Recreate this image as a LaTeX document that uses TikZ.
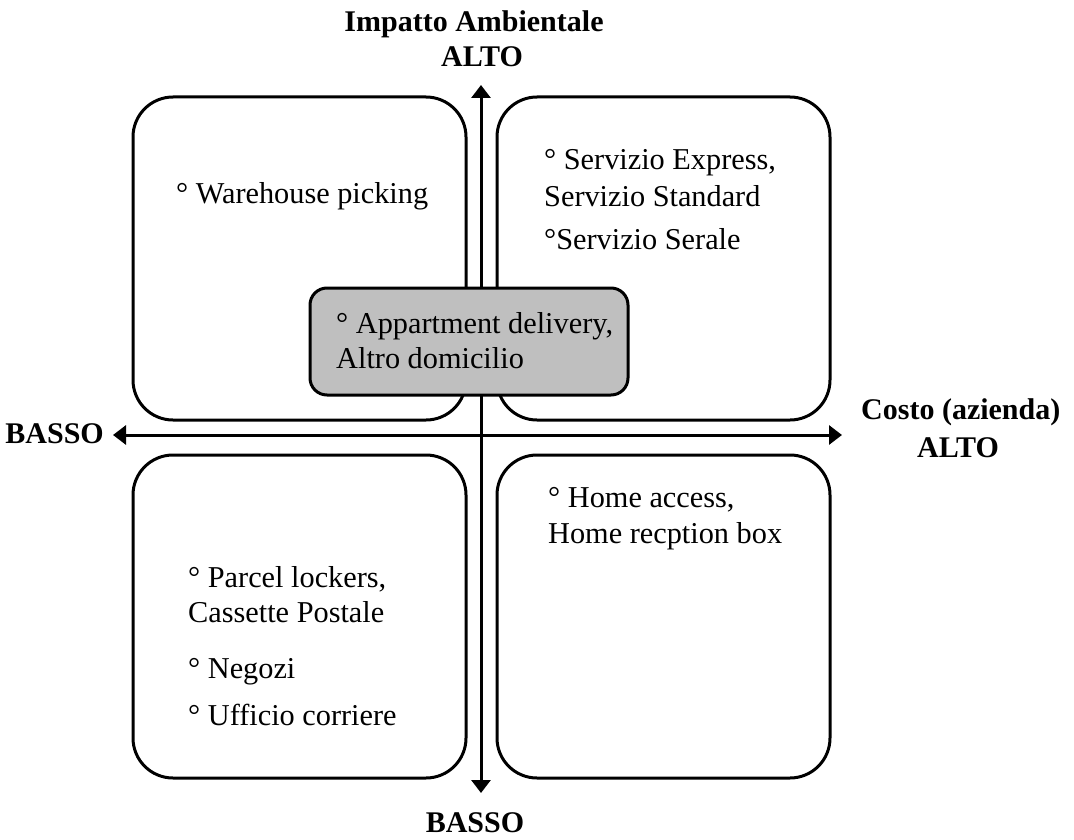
\documentclass[tikz,border=0pt]{standalone}
\usepackage{fontspec}
\setmainfont{Liberation Serif}
\usetikzlibrary{arrows.meta}
\begin{document}
\begin{tikzpicture}[x=1pt,y=-1pt,
  quad/.style={draw=black,line width=3pt,fill=white,rounded corners=40pt,
    minimum width=333pt,minimum height=323pt,inner sep=0pt},
  hilite/.style={draw=black,line width=3pt,fill=black!25,rounded corners=17pt,
    minimum width=318pt,minimum height=107pt,inner sep=0pt},
  axis/.style={line width=3pt,{Triangle[length=13pt,width=19pt]}-{Triangle[length=13pt,width=19pt]}},
  item/.style={anchor=base west,inner sep=0pt,font=\fontsize{30.3}{35}\selectfont},
  axlabel/.style={anchor=base,inner sep=0pt,font=\fontsize{30}{35}\selectfont\bfseries}]
\useasboundingbox (0,0) rectangle (1074,840);

% quadrants
\node[quad] (tl) at (299.5,258.5) {};
\node[quad] (tr) at (663.5,258.5) {};
\node[quad] (bl) at (299.5,616.5) {};
\node[quad] (br) at (663.5,616.5) {};

% axes
\coordinate (top) at (481,85);
\coordinate (bottom) at (481,793);
\coordinate (left) at (113,435);
\coordinate (right) at (842,435);
\draw[axis] (bottom) -- (top);
\draw[axis] (left) -- (right);

% central highlighted box
\node[hilite] (mid) at (469,341.5) {};

% axis labels
\node[axlabel] (ytitle) at (474,32) {Impatto Ambientale};
\node[axlabel] (yhigh) at (482,67) {ALTO};
\node[axlabel] (ylow) at (475,832) {BASSO};
\node[axlabel,anchor=base east] (xlow) at (104,443) {BASSO};
\node[axlabel,anchor=base west] (xtitle) at (861,419) {Costo (azienda)};
\node[axlabel] (xhigh) at (958,457) {ALTO};

% quadrant contents
\node[item] (t1) at (176,204) {° Warehouse picking};

\node[item] (t2) at (544,170) {° Servizio Express,};
\node[item] (t3) at (544,207) {Servizio Standard};
\node[item] (t4) at (544,249) {°Servizio Serale};

\node[item] (t5) at (336,333) {° Appartment delivery,};
\node[item] (t6) at (336,368) {Altro domicilio};

\node[item] (t7) at (548,507) {° Home access,};
\node[item] (t8) at (548,543) {Home recption box};

\node[item] (t9) at (188,587) {° Parcel lockers,};
\node[item] (t10) at (188,622) {Cassette Postale};
\node[item] (t11) at (188,678) {° Negozi};
\node[item] (t12) at (188,725) {° Ufficio corriere};
\end{tikzpicture}
\end{document}
